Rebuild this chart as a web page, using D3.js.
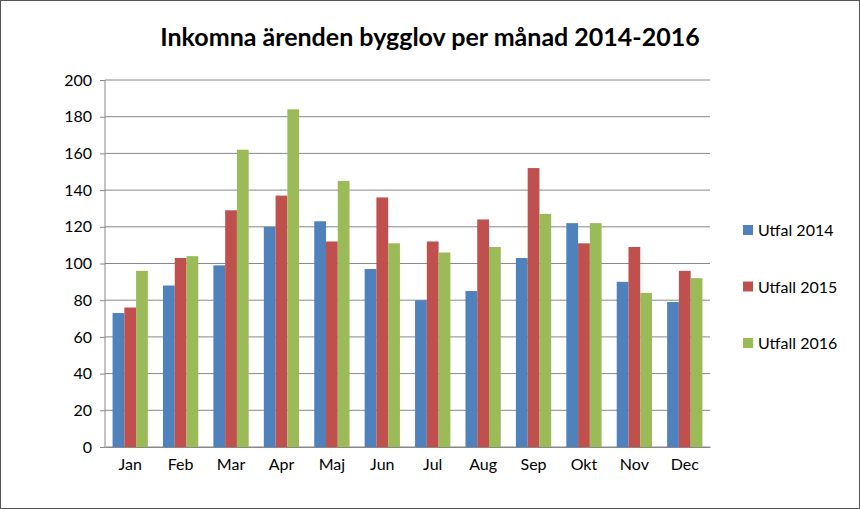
<!DOCTYPE html>
<html><head><meta charset="utf-8">
<script src="https://cdn.jsdelivr.net/npm/d3@7"></script>
<style>body{margin:0;background:#fff;font-family:Lato,"Open Sans",sans-serif}</style>
</head><body><svg id="c" width="860" height="509"></svg>
<script>
const months=["Jan","Feb","Mar","Apr","Maj","Jun","Jul","Aug","Sep","Okt","Nov","Dec"];
const seriesNames=["Utfal 2014","Utfall 2015","Utfall 2016"];
const s2014=[73,88,99,120,123,97,80,85,103,122,90,79];
const s2015=[76,103,129,137,112,136,112,124,152,111,109,96];
const s2016=[96,104,162,184,145,111,106,109,127,122,84,92];
const yTicks=[0,20,40,60,80,100,120,140,160,180,200];
const colors=["#4F81BD","#C0504D","#9BBB59"];
const data=[s2014,s2015,s2016];
const svg=d3.select("#c");
svg.append("rect").attr("x",0.5).attr("y",0.5).attr("width",859).attr("height",508).attr("fill","#fff").attr("stroke","#555");
svg.append("text").attr("x",430).attr("y",46).attr("text-anchor","middle").attr("font-size",25).attr("font-weight","bold").text("Inkomna ärenden bygglov per månad 2014-2016");
const x=d3.scaleBand().domain(months).range([105,710]).paddingInner(0.3).paddingOuter(0.15);
const y=d3.scaleLinear().domain([0,200]).range([447,80]);
const g=svg.append("g");
g.selectAll("line.grid").data(yTicks).join("line").attr("x1",105).attr("x2",710).attr("y1",d=>y(d)).attr("y2",d=>y(d)).attr("stroke","#888").attr("stroke-width",1);
g.append("line").attr("x1",105).attr("x2",105).attr("y1",80).attr("y2",447).attr("stroke","#888");
const xs=d3.scaleBand().domain([0,1,2]).range([0,x.bandwidth()]);
data.forEach((arr,si)=>{
  g.selectAll(null).data(arr).join("rect").attr("x",(d,i)=>x(months[i])+xs(si)).attr("width",xs.bandwidth()).attr("y",d=>y(d)).attr("height",d=>447-y(d)).attr("fill",colors[si]);
});
const ya=svg.append("g").attr("transform","translate(105,0)").call(d3.axisLeft(y).tickValues(yTicks).tickSize(5).tickPadding(8));
ya.select(".domain").remove();
ya.selectAll("line").attr("stroke","#888");
ya.selectAll("text").attr("font-size",16).attr("font-family","Lato,sans-serif").attr("fill","#000");
const xa=svg.append("g").attr("transform","translate(0,447)").call(d3.axisBottom(x).tickSize(0).tickPadding(12));
xa.select(".domain").attr("stroke","#888");
xa.selectAll("text").attr("font-size",16).attr("font-family","Lato,sans-serif").attr("fill","#000");
const lg=svg.append("g");
seriesNames.forEach((n,i)=>{
  const yy=230+i*56.5;
  lg.append("rect").attr("x",743).attr("y",yy-5).attr("width",10).attr("height",10).attr("fill",colors[i]);
  lg.append("text").attr("x",758).attr("y",yy+6).attr("font-size",16).text(n);
});
</script></body></html>
